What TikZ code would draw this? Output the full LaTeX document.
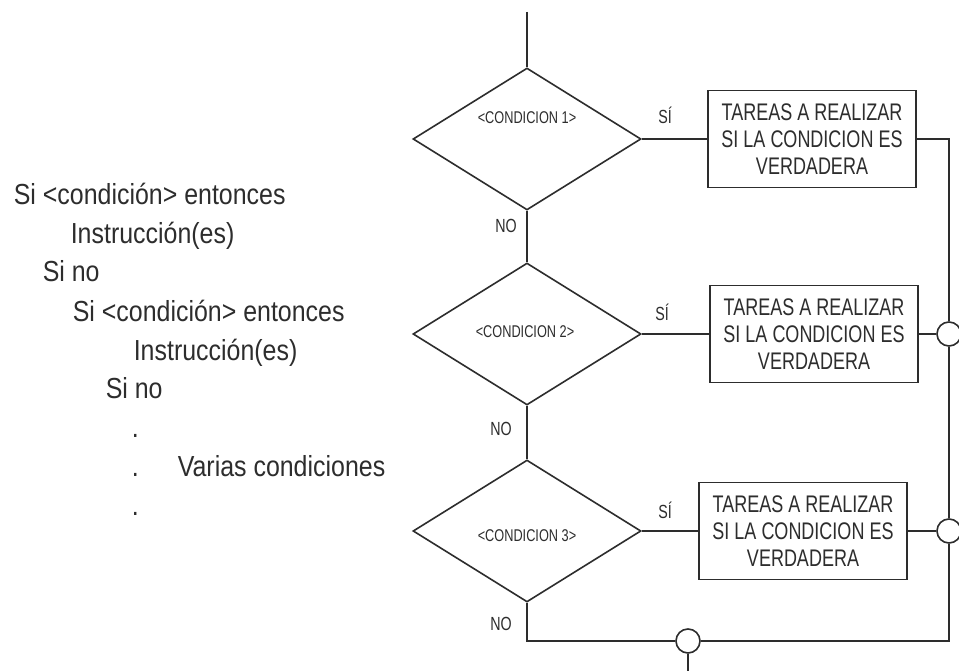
\documentclass[tikz,border=0pt]{standalone}
\usepackage{fontspec}
\setmainfont{Liberation Sans}
\newfontfamily\leftfont[FakeStretch=0.86]{Liberation Sans}
\newfontfamily\diafont[FakeStretch=0.75]{Liberation Sans}
\usetikzlibrary{shapes.geometric}
\definecolor{ink}{RGB}{45,45,45}
\begin{document}
\begin{tikzpicture}[x=1pt,y=-1pt, line width=1.6pt, draw=ink, text=ink,
  code/.style={anchor=base west, inner sep=0, font=\leftfont\fontsize{29}{34}\selectfont},
  cond/.style={diamond, draw, minimum width=228pt, minimum height=142pt, inner sep=0},
  task/.style={draw, minimum width=208pt, minimum height=97pt, inner sep=0, align=center, font=\diafont\fontsize{24}{27}\selectfont},
  condtxt/.style={inner sep=0, font=\diafont\fontsize{17}{20}\selectfont},
  lbl/.style={anchor=base, inner sep=0, font=\diafont\fontsize{19}{22}\selectfont},
  joint/.style={circle, draw, fill=white, minimum size=24pt, inner sep=0},
]
\useasboundingbox (0,0) rectangle (959,671);
\fill[white] (0,0) rectangle (959,671);

% left pseudo-code
\node[code] (l1) at (13,205) {Si <condición> entonces};
\node[code] (l2) at (70,244) {Instrucción(es)};
\node[code] (l3) at (42,282) {Si no};
\node[code] (l4) at (72,321) {Si <condición> entonces};
\node[code] (l5) at (133,360) {Instrucción(es)};
\node[code] (l6) at (105,398) {Si no};
\node[code] (p1) at (131,437) {.};
\node[code] (p2) at (131,476) {.};
\node[code] (v)  at (177,476) {Varias condiciones};
\node[code] (p3) at (131,515) {.};

% flowchart
\coordinate (start) at (527,12);
\node[cond] (d1) at (527,139) {};
\node[cond] (d2) at (527,334) {};
\node[cond] (d3) at (527,531) {};
\node[condtxt] (k1) at (527,118) {<CONDICION 1>};
\node[condtxt] (k2) at (525,332) {<CONDICION 2>};
\node[condtxt] (k3) at (527,536) {<CONDICION 3>};

\node[task] (t1) at (812,139) {TAREAS A REALIZAR\\SI LA CONDICION ES\\VERDADERA};
\node[task] (t2) at (814,334) {TAREAS A REALIZAR\\SI LA CONDICION ES\\VERDADERA};
\node[task] (t3) at (803,531) {TAREAS A REALIZAR\\SI LA CONDICION ES\\VERDADERA};

\node[lbl] (s1) at (665,124) {SÍ};
\node[lbl] (s2) at (662,320) {SÍ};
\node[lbl] (s3) at (665,518) {SÍ};
\node[lbl] (n1) at (506,233) {NO};
\node[lbl] (n2) at (501,435) {NO};
\node[lbl] (n3) at (501,630) {NO};

\node[joint] (j1) at (949,334) {};
\node[joint] (j2) at (949,531) {};
\node[joint] (j3) at (688,641) {};
\coordinate (c1) at (949,139);
\coordinate (c2) at (527,641);
\coordinate (c3) at (949,641);
\coordinate (end) at (688,671);

\draw (start) -- (d1.north);
\draw (d1.south) -- (d2.north);
\draw (d2.south) -- (d3.north);
\draw (d3.south) -- (c2) -- (j3.west);
\draw (j3.east) -- (c3) -- (j2.south);
\draw (j2.north) -- (j1.south);
\draw (j1.north) -- (c1) -- (t1.east);
\draw (d1.east) -- (t1.west);
\draw (d2.east) -- (t2.west);
\draw (d3.east) -- (t3.west);
\draw (t2.east) -- (j1.west);
\draw (t3.east) -- (j2.west);
\draw (j3.south) -- (end);
\end{tikzpicture}
\end{document}
